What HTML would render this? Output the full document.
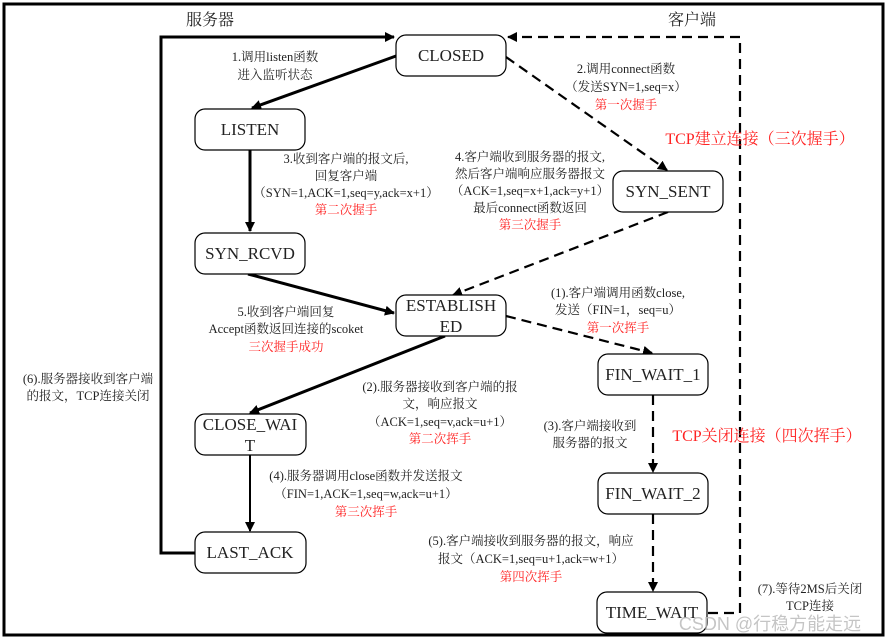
<!DOCTYPE html>
<html><head><meta charset="utf-8"><style>
html,body{margin:0;padding:0;background:#fff;}
svg{display:block;}
text{font-family:"Liberation Serif","Noto Serif CJK SC",serif;fill:#222;}
.n{font-size:17px;text-anchor:middle;}
.l{font-size:12.5px;text-anchor:middle;}
.r{fill:#f22;}
</style></head><body>
<svg width="892" height="642" viewBox="0 0 892 642" xmlns="http://www.w3.org/2000/svg">
<defs>
<marker id="a" markerWidth="10" markerHeight="10" refX="9" refY="5" orient="auto" markerUnits="userSpaceOnUse">
<path d="M0,0 L10,5 L0,10 z" fill="#000"/></marker>
</defs>
<rect x="4" y="4" width="879" height="631" fill="none" stroke="#000" stroke-width="3"/>
<text x="210" y="25" style="font-size:16px;text-anchor:middle">服务器</text>
<text x="692" y="25" style="font-size:16px;text-anchor:middle">客户端</text>

<polyline points="195,553 161,553 161,37 394,37" fill="none" stroke="#000" stroke-width="3" marker-end="url(#a)"/>
<polyline points="708,613 740,613 740,37 508,37" fill="none" stroke="#000" stroke-width="2.2" stroke-dasharray="10,6" marker-end="url(#a)"/>

<line x1="396" y1="56" x2="252" y2="108" stroke="#000" stroke-width="3" marker-end="url(#a)"/>
<line x1="250" y1="150" x2="250" y2="231" stroke="#000" stroke-width="3" marker-end="url(#a)"/>
<line x1="248" y1="274" x2="394" y2="313" stroke="#000" stroke-width="3" marker-end="url(#a)"/>
<line x1="506" y1="57" x2="667" y2="170" stroke="#000" stroke-width="2.2" stroke-dasharray="10,6" marker-end="url(#a)"/>
<line x1="668" y1="212" x2="453" y2="295" stroke="#000" stroke-width="2.2" stroke-dasharray="10,6" marker-end="url(#a)"/>
<line x1="506" y1="316" x2="652" y2="353" stroke="#000" stroke-width="2.2" stroke-dasharray="10,6" marker-end="url(#a)"/>
<line x1="445" y1="336" x2="250" y2="413" stroke="#000" stroke-width="3" marker-end="url(#a)"/>
<line x1="250" y1="455" x2="250" y2="531" stroke="#000" stroke-width="2" marker-end="url(#a)"/>
<line x1="653" y1="395" x2="653" y2="472" stroke="#000" stroke-width="2.2" stroke-dasharray="10,6" marker-end="url(#a)"/>
<line x1="653" y1="514" x2="653" y2="591" stroke="#000" stroke-width="2.2" stroke-dasharray="10,6" marker-end="url(#a)"/>

<g fill="#fff" stroke="#000" stroke-width="1.2">
<rect x="396" y="35" width="110" height="41" rx="10"/>
<rect x="195" y="109" width="110" height="41" rx="10"/>
<rect x="195" y="233" width="110" height="41" rx="10"/>
<rect x="613" y="171" width="110" height="41" rx="10"/>
<rect x="396" y="295" width="110" height="41" rx="10"/>
<rect x="598" y="354" width="110" height="41" rx="10"/>
<rect x="195" y="414" width="111" height="41" rx="10"/>
<rect x="598" y="473" width="110" height="41" rx="10"/>
<rect x="195" y="532" width="111" height="41" rx="10"/>
<rect x="597" y="592" width="110" height="41" rx="10"/>
</g>
<text class="n" x="451" y="61">CLOSED</text>
<text class="n" x="250" y="135">LISTEN</text>
<text class="n" x="250" y="259">SYN_RCVD</text>
<text class="n" x="668" y="197">SYN_SENT</text>
<text class="n" x="451" y="311">ESTABLISH</text>
<text class="n" x="451" y="332">ED</text>
<text class="n" x="653" y="380">FIN_WAIT_1</text>
<text class="n" x="250" y="430">CLOSE_WAI</text>
<text class="n" x="250" y="451">T</text>
<text class="n" x="653" y="499">FIN_WAIT_2</text>
<text class="n" x="250" y="558">LAST_ACK</text>
<text class="n" x="652" y="618">TIME_WAIT</text>

<text class="l" x="275" y="61">1.调用listen函数</text>
<text class="l" x="275" y="79">进入监听状态</text>
<text class="l" x="626" y="73">2.调用connect函数</text>
<text class="l" x="626" y="91">（发送SYN=1,seq=x）</text>
<text class="l r" x="626" y="109">第一次握手</text>
<text class="l" x="346" y="163">3.收到客户端的报文后,</text>
<text class="l" x="346" y="180">回复客户端</text>
<text class="l" x="346" y="197">（SYN=1,ACK=1,seq=y,ack=x+1）</text>
<text class="l r" x="346" y="214">第二次握手</text>
<text class="l" x="530" y="161">4.客户端收到服务器的报文,</text>
<text class="l" x="530" y="178">然后客户端响应服务器报文</text>
<text class="l" x="530" y="195">（ACK=1,seq=x+1,ack=y+1）</text>
<text class="l" x="530" y="212">最后connect函数返回</text>
<text class="l r" x="530" y="229">第三次握手</text>
<text x="760" y="144" style="font-size:16px;text-anchor:middle;fill:#f22">TCP建立连接（三次握手）</text>
<text class="l" x="286" y="316">5.收到客户端回复</text>
<text class="l" x="286" y="333">Accept函数返回连接的scoket</text>
<text class="l r" x="286" y="351">三次握手成功</text>
<text class="l" x="618" y="297">(1).客户端调用函数close,</text>
<text class="l" x="618" y="314">发送（FIN=1，seq=u）</text>
<text class="l r" x="618" y="332">第一次挥手</text>
<text class="l" x="88" y="383">(6).服务器接收到客户端</text>
<text class="l" x="88" y="400">的报文，TCP连接关闭</text>
<text class="l" x="440" y="391">(2).服务器接收到客户端的报</text>
<text class="l" x="440" y="408">文，响应报文</text>
<text class="l" x="440" y="426">（ACK=1,seq=v,ack=u+1）</text>
<text class="l r" x="440" y="443">第二次挥手</text>
<text class="l" x="590" y="430">(3).客户端接收到</text>
<text class="l" x="590" y="447">服务器的报文</text>
<text x="767" y="441" style="font-size:16px;text-anchor:middle;fill:#f22">TCP关闭连接（四次挥手）</text>
<text class="l" x="366" y="480">(4).服务器调用close函数并发送报文</text>
<text class="l" x="366" y="498">（FIN=1,ACK=1,seq=w,ack=u+1）</text>
<text class="l r" x="366" y="516">第三次挥手</text>
<text class="l" x="531" y="545">(5).客户端接收到服务器的报文，响应</text>
<text class="l" x="531" y="563">报文（ACK=1,seq=u+1,ack=w+1）</text>
<text class="l r" x="531" y="581">第四次挥手</text>
<text class="l" x="810" y="593">(7).等待2MS后关闭</text>
<text class="l" x="810" y="610">TCP连接</text>
<text x="770" y="630" style="font-family:'Liberation Sans','Noto Sans CJK SC',sans-serif;font-size:18px;text-anchor:middle;fill:#bbb;opacity:0.85">CSDN @行稳方能走远</text>
</svg>
</body></html>
